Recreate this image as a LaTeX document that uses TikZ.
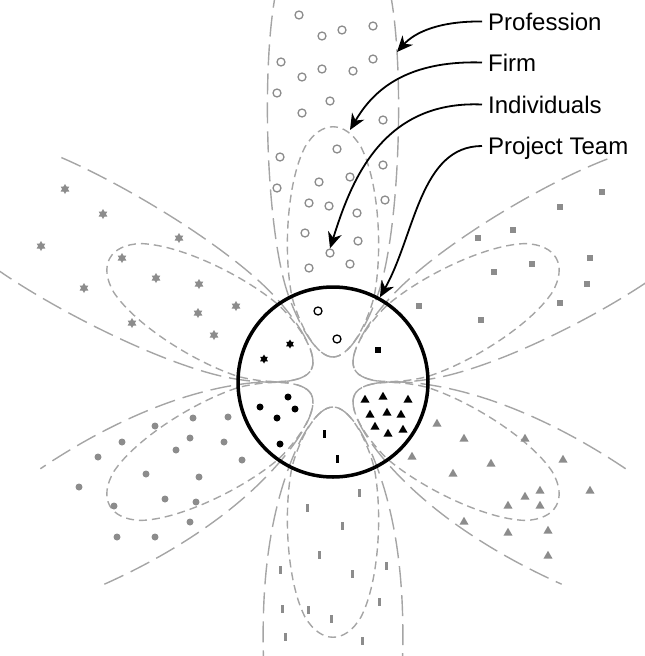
\documentclass[tikz,border=0pt]{standalone}
\usepackage{fontspec}
\setmainfont{Liberation Sans}
\usetikzlibrary{arrows.meta,shapes.geometric}

\definecolor{linegray}{RGB}{165,165,165}
\definecolor{markgray}{RGB}{140,140,140}

\begin{document}
\begin{tikzpicture}[x=1pt,y=-1pt,
  profline/.style={linegray, line width=1.4pt, dash pattern=on 21pt off 8pt},
  firmline/.style={linegray, line width=1.4pt, dash pattern=on 8pt off 5pt},
  teamring/.style={circle, draw=black, line width=3.5pt, minimum size=190pt, inner sep=0pt},
  tagtext/.style={anchor=west, font=\fontsize{24}{28}\selectfont, text height=17pt, text depth=0pt, inner sep=6pt},
  pointarrow/.style={-{Stealth[length=16pt,width=14pt,inset=5pt]}, line width=1.8pt},
  ocirc/.style={circle, draw, line width=1.3pt, minimum size=8pt, inner sep=0pt},
  starmark/.style={star, star points=6, star point ratio=1.73, fill, minimum size=10pt, inner sep=0pt},
  sqmark/.style={rectangle, fill, minimum size=6pt, inner sep=0pt},
  dotmark/.style={circle, fill, minimum size=7pt, inner sep=0pt},
  trimark/.style={regular polygon, regular polygon sides=3, fill, minimum size=10.5pt, inner sep=0pt},
  barmark/.style={rectangle, fill, minimum width=3pt, minimum height=8pt, inner sep=0pt}]

\useasboundingbox (0,0) rectangle (645,656);
\clip (0,0) rectangle (645,656);

\begin{scope}[shift={(333,382)}]
\foreach \ang/\len/\wid in {90/395/56,151/352/64,29/348/62,209/298/66,331/298/66,270/292/69}{
  \begin{scope}[rotate=\ang]
    \draw[profline] (\len,-\wid) .. controls (\len-70,-72) and (150,-68) .. (85,-44)
      .. controls (55,-33) and (25,-16) .. (25,0)
      .. controls (25,16) and (55,33) .. (85,44)
      .. controls (150,68) and (\len-70,72) .. (\len,\wid);
    \draw[firmline] (25,0) .. controls (25,16) and (55,33) .. (85,41)
      .. controls (130,50) and (200,46) .. (235,28)
      .. controls (262,12) and (262,-12) .. (235,-28)
      .. controls (200,-46) and (130,-50) .. (85,-41)
      .. controls (55,-33) and (25,-16) .. (25,0);
  \end{scope}
}
\end{scope}

\node[teamring] (team) at (333,382) {};

\foreach \x/\y [count=\i] in {299/15,322/36,342/30,373/26,281/62,302/77,322/69,353/71,373/59,277/93,330/101,302/113,383/120,337/149,280/157,383/165,319/182,350/177,277/188,309/203,329/206,385/200,357/213,305/233,358/241,309/268,350/264}
  \node[ocirc, draw=markgray] (o\i) at (\x,\y) {};
\node[ocirc, draw=markgray] (person) at (330,253) {};
\foreach \x/\y [count=\i] in {318/311,337/339}
  \node[ocirc, draw=black] (oin\i) at (\x,\y) {};

\foreach \x/\y [count=\i] in {65/189,103/214,41/246,179/238,122/258,84/288,156/278,199/284,236/306,198/313,132/323,214/335}
  \node[starmark, fill=markgray] (st\i) at (\x,\y) {};
\foreach \x/\y [count=\i] in {290/344,264/359}
  \node[starmark, fill=black, minimum size=9pt] (stin\i) at (\x,\y) {};

\foreach \x/\y [count=\i] in {602/192,560/207,513/230,478/238,590/258,532/264,494/272,587/284,560/303,419/306,481/320}
  \node[sqmark, fill=markgray] (sq\i) at (\x,\y) {};
\node[sqmark, fill=black] (sqin1) at (378,350) {};

\foreach \x/\y [count=\i] in {155/426,193/418,228/417,122/442,190/438,224/442,98/457,176/450,242/460,146/474,199/477,79/487,165/499,196/502,114/506,190/522,117/537,155/537}
  \node[dotmark, fill=markgray] (dt\i) at (\x,\y) {};
\foreach \x/\y [count=\i] in {288/397,260/407,295/409,277/418,280/444}
  \node[dotmark, fill=black] (dtin\i) at (\x,\y) {};

\foreach \x/\y [count=\i] in {437/424,464/439,525/439,412/457,491/464,563/460,453/474,540/491,525/497,590/491,508/506,540/506,464/522,508/533,548/531,548/556}
  \node[trimark, fill=markgray] (tr\i) at (\x,\y) {};
\foreach \x/\y [count=\i] in {365/400,383/397,408/400,370/415,387/413,401/415,375/427,388/434,403/430}
  \node[trimark, fill=black] (trin\i) at (\x,\y) {};

\foreach \x/\y [count=\i] in {359/493,307/508,342/526,319/555,280/570,386/566,352/574,379/602,282/609,308/610,331/619,285/637,362/641}
  \node[barmark, fill=markgray] (br\i) at (\x,\y) {};
\foreach \x/\y [count=\i] in {324/434,337/459}
  \node[barmark, fill=black] (brin\i) at (\x,\y) {};

\node[tagtext] (prof) at (482,21.5) {Profession};
\node[tagtext] (firm) at (482,62.5) {Firm};
\node[tagtext] (indiv) at (482,104.5) {Individuals};
\node[tagtext] (projteam) at (482,146) {Project Team};

\coordinate (profedge) at (397,52);
\coordinate (firmedge) at (350,130);

\draw[pointarrow] (prof.west) .. controls (440,21) and (415,32) .. (profedge);
\draw[pointarrow] (firm.west) .. controls (400,60) and (370,96) .. (firmedge);
\draw[pointarrow] (indiv.west) .. controls (380,100) and (350,185) .. (person.north);
\draw[pointarrow] (projteam.west) .. controls (420,146) and (415,235) .. (team.61);
\end{tikzpicture}
\end{document}
